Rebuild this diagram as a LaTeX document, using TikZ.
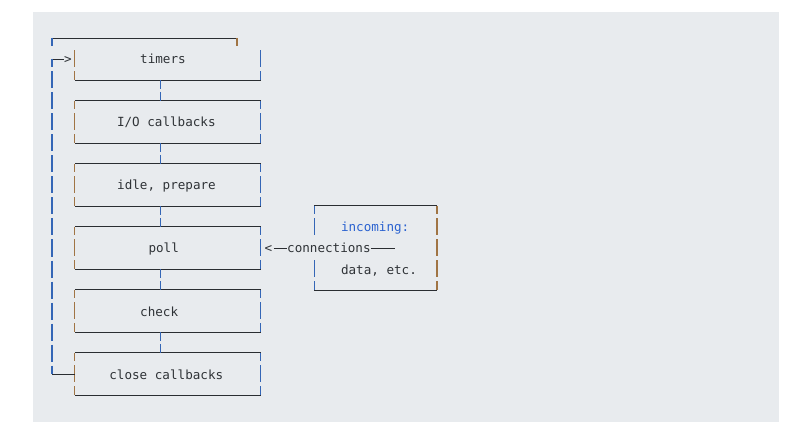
\documentclass[tikz,border=0pt]{standalone}
\usepackage{fontspec}
\setmonofont{DejaVu Sans Mono}
\usetikzlibrary{calc}
\definecolor{bg}{HTML}{E8EBEE}
\definecolor{ink}{HTML}{2F3337}
\definecolor{kw}{HTML}{2A62D0}
\definecolor{barO}{HTML}{A07444}
\definecolor{barB}{HTML}{3466B6}
\definecolor{hl}{HTML}{2A2D31}
\tikzset{
  boxshape/.style={rectangle, minimum width=185.5pt, minimum height=42pt, inner sep=0pt, draw=none},
  lbl/.style={font=\ttfamily\fontsize{12.6}{14}\selectfont, text=ink, inner sep=0pt, anchor=base west},
  hline/.style={draw=hl, line width=0.9pt},
  vb/.style={draw=barB, line width=1.1pt},
  vo/.style={draw=barO, line width=1.1pt},
}
% one vertical glyph segment, offsets measured downwards from point #2
\newcommand\vseg[4][vb]{%
  \draw[#1] ([shift={(0,#3)}]#2) -- ([shift={(0,#4)}]#2);
}
\newcommand\vside[2][vb]{\vseg[#1]{#2}{0}{8.5}\vseg[#1]{#2}{12.5}{29.5}\vseg[#1]{#2}{33.5}{42}}
\newcommand\phasebox[1]{%
  \draw[hline] (#1.north west) -- (#1.north east);
  \draw[hline] (#1.south west) -- (#1.south east);
  \vside[vo]{#1.north west}\vside[vb]{#1.north east}%
}
\newcommand\phaselink[2]{%
  \coordinate (#1-out) at ([xshift=-7.5pt]#1.south);
  \coordinate (#2-in) at ([xshift=-7.5pt]#2.north);
  \vseg{#1-out}{0}{9}\vseg{#2-in}{-9}{0}%
}
\begin{document}
\begin{tikzpicture}[x=1pt,y=-1pt]
\fill[white] (0,0) rectangle (796,433);
\useasboundingbox (0,0) rectangle (796,433);
\fill[bg] (33,12) rectangle (779,421.5);

% phase boxes (rows 38 + 21k)
\node[boxshape] (timers) at (167.75,59) {};
\node[boxshape] (io)     at (167.75,122) {};
\node[boxshape] (idle)   at (167.75,185) {};
\node[boxshape] (poll)   at (167.75,248) {};
\node[boxshape] (check)  at (167.75,311) {};
\node[boxshape] (close)  at (167.75,374) {};
\node[boxshape, minimum width=122.5pt, minimum height=84pt] (incoming) at (375.5,248) {};

% labels
\node[lbl] (ttimers) at (140,64) {timers};
\node[lbl] (tio)     at (116.8,127) {I/O callbacks};
\node[lbl] (tidle)   at (117,190) {idle, prepare};
\node[lbl] (tpoll)   at (148.3,253) {poll};
\node[lbl] (tcheck)  at (140,316) {check};
\node[lbl] (tclose)  at (109.2,379) {close callbacks};
\node[lbl, text=kw] (tin)   at (340.8,232) {incoming:};
\node[lbl] (tdata) at (340.8,274) {data, etc.};

% timers box: no top line of its own
\draw[hline] (timers.south west) -- (timers.south east);
\vseg[vo]{timers.north west}{12.5}{29.5}\vseg[vo]{timers.north west}{33.5}{42}
\vseg[vb]{timers.north east}{12.5}{29.5}\vseg[vb]{timers.north east}{33.5}{42}
\phasebox{io}
\phasebox{idle}
\phasebox{poll}
\phasebox{check}
\phasebox{close}

% incoming box (left bar broken by the connections line)
\draw[hline] (incoming.north west) -- (incoming.north east);
\draw[hline] (incoming.south west) -- (incoming.south east);
\vseg[vb]{incoming.north west}{0}{8.5}\vseg[vb]{incoming.north west}{12.5}{29.5}
\vseg[vb]{incoming.north west}{54.5}{71.5}\vseg[vb]{incoming.north west}{75.5}{84}
\vseg[vo]{incoming.north east}{0}{8.5}\vseg[vo]{incoming.north east}{12.5}{29.5}
\vseg[vo]{incoming.north east}{33.5}{50.5}\vseg[vo]{incoming.north east}{54.5}{71.5}
\vseg[vo]{incoming.north east}{75.5}{84}

% links between phases
\phaselink{timers}{io}
\phaselink{io}{idle}
\phaselink{idle}{poll}
\phaselink{poll}{check}
\phaselink{check}{close}

% loop back from close callbacks to timers
\coordinate (loopTL) at (52,38);
\coordinate (loopTR) at (237,38);
\draw[hline] (loopTL) -- (loopTR);
\vseg[vb]{loopTL}{0}{8.5}\vseg[vo]{loopTR}{0}{8.5}
\coordinate (loopA) at (52,59);
\node[lbl] (arrow) at (64,64) {>};
\draw[hline] (loopA) -- (arrow.west |- loopA);
\vseg{loopA}{0}{8.5}
\foreach \k in {1,...,14} {\vseg{loopA}{21*\k-8.5}{21*\k+8.5}}
\coordinate (loopB) at (loopA |- close.west);
\vseg{loopB}{-8.5}{0}
\draw[hline] (close.west) -- (loopB);

% connections into poll
\node[lbl] (lt) at (264.3,253) {<};
\node[lbl] (conn) at (287,253) {connections};
\coordinate (connEnd) at (395,248);
\draw[hline] ([xshift=1.5pt]lt.east |- poll.east) -- (conn.west |- poll.east);
\draw[hline] (conn.east |- poll.east) -- (connEnd);
\end{tikzpicture}
\end{document}
